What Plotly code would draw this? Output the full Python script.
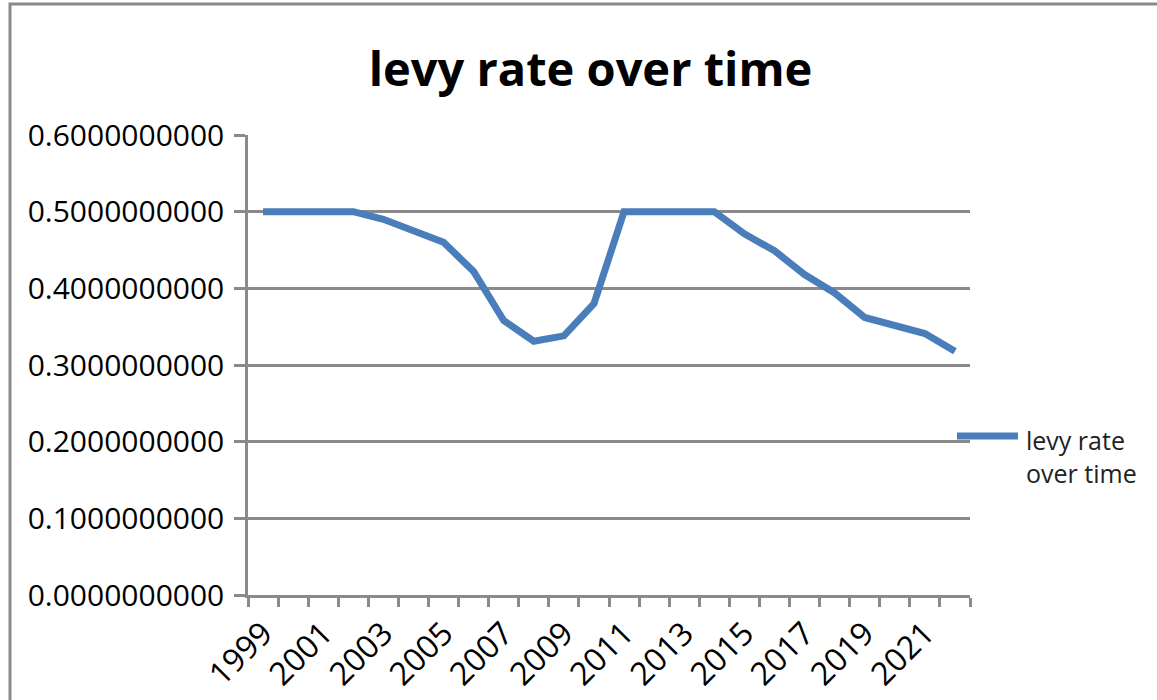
import plotly.graph_objects as go

years = list(range(1999, 2023))
levy_rate = [0.500, 0.500, 0.500, 0.500, 0.490, 0.474, 0.460, 0.422,
             0.358, 0.331, 0.338, 0.380, 0.500, 0.500, 0.500, 0.500,
             0.471, 0.449, 0.418, 0.394, 0.362, 0.351, 0.341, 0.318]
label_years = list(range(1999, 2022, 2))
y_ticks = [0.0, 0.1, 0.2, 0.3, 0.4, 0.5, 0.6]
series_name = "levy rate<br>over time"

FONT = "Open Sans"
GRID = "#8a8a8a"
LINE = "#4a7ebb"

fig = go.Figure()
fig.add_trace(go.Scatter(
    x=years, y=levy_rate, mode="lines", name=series_name,
    line=dict(color=LINE, width=7), showlegend=False,
))

L, R, T, B = 248, 187, 135, 105
W, H = 1157, 700
pw, ph = W - L - R, H - T - B

def px(x):
    return (x - L) / pw

def py(y):
    return (H - B - y) / ph

fig.update_layout(
    width=W, height=H,
    margin=dict(l=L, r=R, t=T, b=B, autoexpand=False),
    paper_bgcolor="white", plot_bgcolor="white",
    title=dict(text="<b>levy rate over time</b>", x=(363 + 818) / 2 / W, xanchor="center",
               y=1 - 70 / H, yanchor="middle",
               font=dict(family=FONT, size=47, color="black")),
    xaxis=dict(
        range=[1998.5, 2022.5], tickmode="array", tickvals=label_years,
        ticktext=[str(v) for v in label_years], tickangle=-45,
        ticks="", showgrid=False, zeroline=False, ticklabelstandoff=4,
        showline=True, linecolor=GRID, linewidth=2.5,
        tickfont=dict(family=FONT, size=32, color="black"),
        minor=dict(tickvals=[y - 0.5 for y in years] + [2022.5], ticks="outside",
                   ticklen=9, tickwidth=2.5, tickcolor=GRID, showgrid=False),
    ),
    yaxis=dict(
        range=[0, 0.6], tickmode="array", tickvals=y_ticks,
        tickformat=".10f", ticks="outside", ticklen=11, tickwidth=2.5, tickcolor=GRID,
        showgrid=True, gridcolor=GRID, gridwidth=2.5, zeroline=False,
        showline=True, linecolor=GRID, linewidth=2.5, ticklabelstandoff=4,
        tickfont=dict(family=FONT, size=30, color="black"),
    ),
    shapes=[
        dict(type="rect", xref="paper", yref="paper",
             x0=px(10), x1=px(1170), y0=py(715), y1=py(4),
             line=dict(color="#8a8a8a", width=3), fillcolor="rgba(0,0,0,0)",
             layer="below"),
        # legend swatch
        dict(type="line", xref="paper", yref="paper",
             x0=px(957), x1=px(1018), y0=py(436), y1=py(436),
             line=dict(color=LINE, width=7)),
    ],
    annotations=[
        dict(text=series_name, xref="paper", yref="paper",
             x=px(1024), xanchor="left", y=py(456), yanchor="middle",
             align="left", showarrow=False,
             font=dict(family=FONT, size=25, color="#222")),
    ],
)

fig.write_html("out.html")
